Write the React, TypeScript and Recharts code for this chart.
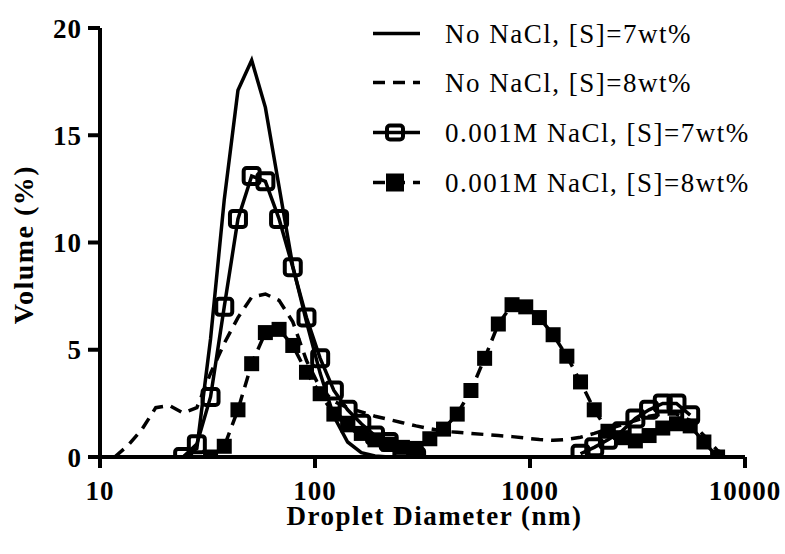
import React from 'react';
import { LineChart, Line, XAxis, YAxis, Legend } from 'recharts';

// Droplet diameter bins (nm)
const diameters = [
  11.7, 13.54, 15.69, 18.17, 21.04, 24.36, 28.21, 32.67, 37.84, 43.82,
  50.75, 58.77, 68.06, 78.82, 91.28, 105.7, 122.4, 141.8, 164.2, 190.1,
  220.2, 255.0, 295.3, 342.0, 396.1, 458.7, 531.2, 615.1, 712.4, 825.0,
  955.4, 1106, 1281, 1484, 1718, 1990, 2305, 2669, 3091, 3580,
  4145, 4801, 5560, 6439, 7456, 8635,
];

// No NaCl, [S]=7wt%
const noNaCl7 = [
  null, null, null, null, null, 0, 0.4, 5.5, 12.0, 17.1,
  18.5, 16.3, 12.6, 8.9, 6.3, 3.9, 1.9, 0.7, 0.2, 0.05,
  0, null, null, null, null, null, null, null, null, null,
  null, null, null, null, null, null, null, null, null, null,
  null, null, null, null, null, null,
];

// No NaCl, [S]=8wt%
const noNaCl8 = [
  0, 0.55, 1.3, 2.3, 2.4, 2.05, 2.3, 3.9, 5.3, 6.5,
  7.45, 7.6, 7.3, 6.3, 4.5, 3.2, 2.6, 2.3, 2.1, 1.9,
  1.75, 1.6, 1.45, 1.32, 1.2, 1.15, 1.1, 1.05, 1.0, 0.95,
  0.88, 0.82, 0.78, 0.82, 0.92, 1.1, 1.3, 1.5, 1.7, 1.9,
  2.0, 2.0, 1.7, 1.0, 0.3, 0,
];

// 0.001M NaCl, [S]=7wt%
const salt7 = [
  null, null, null, null, null, 0, 0.6, 2.8, 7.0, 11.1,
  13.1, 12.85, 11.1, 8.85, 6.5, 4.6, 3.1, 2.2, 1.55, 1.0,
  0.7, 0.3, 0.02, null, null, null, null, null, null, null,
  null, null, null, null, 0.15, 0.45, 0.8, 1.2, 1.8, 2.2,
  2.5, 2.5, 1.95, null, null, null,
];

// 0.001M NaCl, [S]=8wt%
const salt8 = [
  null, null, null, null, null, null, null, 0, 0.5, 2.2,
  4.35, 5.8, 5.95, 5.2, 3.95, 2.95, 2.0, 1.5, 1.1, 0.8,
  0.6, 0.45, 0.4, 0.85, 1.3, 2.0, 3.1, 4.6, 6.2, 7.1,
  7.0, 6.5, 5.7, 4.7, 3.5, 2.2, 1.2, 0.9, 0.75, 1.0,
  1.35, 1.55, 1.45, 0.7, 0, null,
];

const seriesNames = [
  'No NaCl, [S]=7wt%',
  'No NaCl, [S]=8wt%',
  '0.001M NaCl, [S]=7wt%',
  '0.001M NaCl, [S]=8wt%',
];

const xTicks = [10, 100, 1000, 10000];
const yTicks = [0, 5, 10, 15, 20];

const data = diameters.map((d, i) => ({
  d,
  s1: noNaCl7[i],
  s2: noNaCl8[i],
  s3: salt7[i],
  s4: salt8[i],
}));

const FONT = '"Liberation Serif", "Times New Roman", serif';

const OpenSquare = (props: any) => {
  const { cx, cy, value, index } = props;
  if (value == null || cx == null || cy == null || Number.isNaN(cy)) return <g key={`o-${index}`} />;
  return (
    <rect key={`o-${index}`} x={cx - 8} y={cy - 8} width={16} height={16} rx={3}
      fill="none" stroke="#000" strokeWidth={4} />
  );
};

const FilledSquare = (props: any) => {
  const { cx, cy, value, index } = props;
  if (value == null || cx == null || cy == null || Number.isNaN(cy)) return <g key={`f-${index}`} />;
  return <rect key={`f-${index}`} x={cx - 7.5} y={cy - 7.5} width={15} height={15} fill="#000" />;
};

const LegendContent = () => {
  const rowY = [43, 92, 142, 192];
  return (
    <svg width={425} height={210} style={{ display: 'block' }}>
      {seriesNames.map((name, i) => {
        const y = rowY[i] - 9.5;
        return (
          <g key={name}>
            {i === 0 && <line x1={13} x2={60} y1={y} y2={y} stroke="#000" strokeWidth={3.5} />}
            {i === 1 && <line x1={13} x2={60} y1={y} y2={y} stroke="#000" strokeWidth={3.5} strokeDasharray="12 8" />}
            {i === 2 && (
              <g>
                <line x1={13} x2={60} y1={y} y2={y} stroke="#000" strokeWidth={3.5} />
                <rect x={27} y={y - 7} width={16} height={14} rx={3} fill="none" stroke="#000" strokeWidth={4} />
              </g>
            )}
            {i === 3 && (
              <g>
                <line x1={13} x2={60} y1={y} y2={y} stroke="#000" strokeWidth={3.5} strokeDasharray="12 8" />
                <rect x={26} y={y - 9} width={18} height={18} fill="#000" />
              </g>
            )}
            <text x={85} y={rowY[i]} fontFamily={FONT} fontSize={27} letterSpacing={1.5} fill="#000">
              {name}
            </text>
          </g>
        );
      })}
    </svg>
  );
};

const XTitle = (props: any) => {
  const { viewBox } = props;
  return (
    <text x={viewBox.x + viewBox.width / 2 + 12} y={525} textAnchor="middle"
      fontFamily={FONT} fontSize={27} fontWeight="bold" letterSpacing={1.5} fill="#000">
      Droplet Diameter (nm)
    </text>
  );
};

const YTitle = (props: any) => {
  const { viewBox } = props;
  const cy = viewBox.y + viewBox.height / 2 + 2;
  return (
    <text x={33} y={cy} transform={`rotate(-90, 33, ${cy})`} textAnchor="middle"
      fontFamily={FONT} fontSize={28} fontWeight="bold" letterSpacing={1.5} fill="#000">
      Volume (%)
    </text>
  );
};

const tickStyle = { fill: '#000', fontSize: 27, fontWeight: 'bold', fontFamily: FONT, letterSpacing: 1 };

export default function App() {
  return (
    <div style={{ position: 'absolute', left: 0, top: 0, width: 785, height: 554, background: '#fff' }}>
      <LineChart width={785} height={554} data={data}
        margin={{ top: 28, right: 40, left: 0, bottom: 0 }}
        style={{ fontFamily: FONT }}>
        <XAxis dataKey="d" type="number" scale="log" domain={[10, 10000]} ticks={xTicks}
          allowDataOverflow height={97}
          axisLine={{ stroke: '#000', strokeWidth: 4 }}
          tickLine={{ stroke: '#000', strokeWidth: 4 }}
          tickSize={11} tickMargin={13} tick={tickStyle}
          label={<XTitle />} />
        <YAxis type="number" domain={[0, 20]} ticks={yTicks} width={100}
          allowDataOverflow
          axisLine={{ stroke: '#000', strokeWidth: 4 }}
          tickLine={{ stroke: '#000', strokeWidth: 4 }}
          tickSize={12} tickMargin={6} tick={tickStyle}
          label={<YTitle />} />
        <Legend layout="vertical" align="center" verticalAlign="middle"
          wrapperStyle={{ position: 'absolute', left: 360, top: 0, width: 425, height: 210 }}
          content={<LegendContent />} />
        <Line name={seriesNames[0]} dataKey="s1" stroke="#000" strokeWidth={3.5} dot={false}
          isAnimationActive={false} connectNulls={false} />
        <Line name={seriesNames[1]} dataKey="s2" stroke="#000" strokeWidth={3.5} strokeDasharray="12 8"
          dot={false} isAnimationActive={false} connectNulls={false} />
        <Line name={seriesNames[2]} dataKey="s3" stroke="#000" strokeWidth={3.5}
          dot={<OpenSquare />} isAnimationActive={false} connectNulls={false} />
        <Line name={seriesNames[3]} dataKey="s4" stroke="#000" strokeWidth={3.5} strokeDasharray="12 8"
          dot={<FilledSquare />} isAnimationActive={false} connectNulls={false} />
      </LineChart>
    </div>
  );
}
